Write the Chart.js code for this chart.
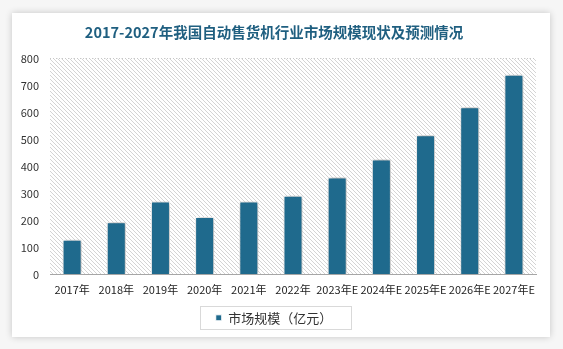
<!DOCTYPE html>
<html>
<head>
<meta charset="utf-8">
<title>自动售货机行业市场规模</title>
<script src="https://cdn.jsdelivr.net/npm/chart.js@4.4.0/dist/chart.umd.min.js"></script>
<style>
  html, body { margin: 0; padding: 0; }
  body { width: 563px; height: 349px; background: #f6f6f6; position: relative; overflow: hidden; }
  .card {
    position: absolute; left: 12px; top: 13px; width: 538px; height: 324px;
    background: #fff; box-shadow: 0 0 7px rgba(0,0,0,0.2);
  }
</style>
</head>
<body>
<div class="card"><canvas id="myChart" width="538" height="324"></canvas></div>
<script>
// 市场规模（亿元），2023年以后为预测值
var years = ['2017年', '2018年', '2019年', '2020年', '2021年', '2022年', '2023年E', '2024年E', '2025年E', '2026年E', '2027年E'];
var scale = [128, 193, 270, 213, 270, 291, 359, 426, 515, 619, 739];
var yTicks = [0, 100, 200, 300, 400, 500, 600, 700, 800];

var FONT = '"Noto Sans CJK SC", "Noto Sans", sans-serif';

// diagonal stripes for the plot background
function stripes() {
  var c = document.createElement('canvas');
  c.width = 4; c.height = 4;
  var g = c.getContext('2d');
  g.fillStyle = '#ffffff';
  g.fillRect(0, 0, 4, 4);
  g.fillStyle = '#d4d4d4';
  for (var i = 0; i < 4; i++) g.fillRect(i, i, 1, 1);
  return g.createPattern(c, 'repeat');
}

var hatchBg = {
  id: 'hatchBg',
  beforeDraw: function(chart) {
    var a = chart.chartArea, ctx = chart.ctx;
    ctx.save();
    ctx.fillStyle = stripes();
    ctx.fillRect(a.left, a.top, a.right - a.left, a.bottom - a.top);
    ctx.restore();
  }
};

var barShadow = {
  id: 'barShadow',
  beforeDatasetsDraw: function(chart) {
    var ctx = chart.ctx;
    ctx.save();
    ctx.shadowColor = 'rgba(0,0,0,0.4)';
    ctx.shadowBlur = 5;
    ctx.shadowOffsetX = 1;
    ctx.shadowOffsetY = 0;
  },
  afterDatasetsDraw: function(chart) {
    chart.ctx.restore();
  }
};

var legendFrame = {
  id: 'legendFrame',
  afterDraw: function(chart) {
    var boxes = chart.legend.legendHitBoxes;
    if (!boxes || !boxes.length) return;
    var b = boxes[0], ctx = chart.ctx;
    var cy = b.top + b.height / 2;
    ctx.save();
    ctx.strokeStyle = '#d9d9d9';
    ctx.lineWidth = 1;
    ctx.strokeRect(Math.round(b.left - 16) + 0.5, Math.round(cy - 11.5) + 0.5,
                   Math.round(b.width + 34), 23);
    ctx.restore();
  }
};

var ctx = document.getElementById('myChart').getContext('2d');
var chart = new Chart(ctx, {
  type: 'bar',
  data: {
    labels: years,
    datasets: [{
      label: '市场规模（亿元）',
      data: scale,
      backgroundColor: '#1f6a8d',
      borderColor: '#ffffff',
      borderWidth: 1,
      barPercentage: 0.86,
      categoryPercentage: 0.5
    }]
  },
  options: {
    responsive: false,
    animation: false,
    layout: { padding: { left: 0, right: 14, top: 0, bottom: 2.7 } },
    plugins: {
      title: {
        display: true,
        text: '2017-2027年我国自动售货机行业市场规模现状及预测情况',
        color: '#1f5f80',
        font: { family: FONT, size: 14.5, weight: 'bold' },
        padding: { top: 11, bottom: 17 }
      },
      legend: {
        position: 'bottom',
        labels: {
          color: '#333',
          font: { family: FONT, size: 13 },
          boxWidth: 6,
          boxHeight: 6,
          padding: 5.7
        }
      },
      tooltip: { enabled: false }
    },
    scales: {
      x: {
        grid: { display: false, drawTicks: false },
        border: { display: true, color: '#a6a6a6' },
        ticks: {
          color: '#222',
          font: { family: FONT, size: 11 },
          maxRotation: 0,
          autoSkip: false,
          padding: 9
        }
      },
      y: {
        min: 0,
        max: 800,
        afterBuildTicks: function(axis) {
          axis.ticks = yTicks.map(function(v) { return { value: v }; });
        },
        afterFit: function(axis) { axis.width = 38; },
        grid: {
          drawTicks: false,
          color: function(c) { return c.tick && c.tick.value === 800 ? '#c8c8c8' : 'transparent'; },
          lineWidth: 1
        },
        border: { display: false, dash: [1, 2] },
        ticks: {
          color: '#333',
          font: { family: FONT, size: 11 },
          padding: 11
        }
      }
    }
  },
  plugins: [hatchBg, barShadow, legendFrame]
});
</script>
</body>
</html>
